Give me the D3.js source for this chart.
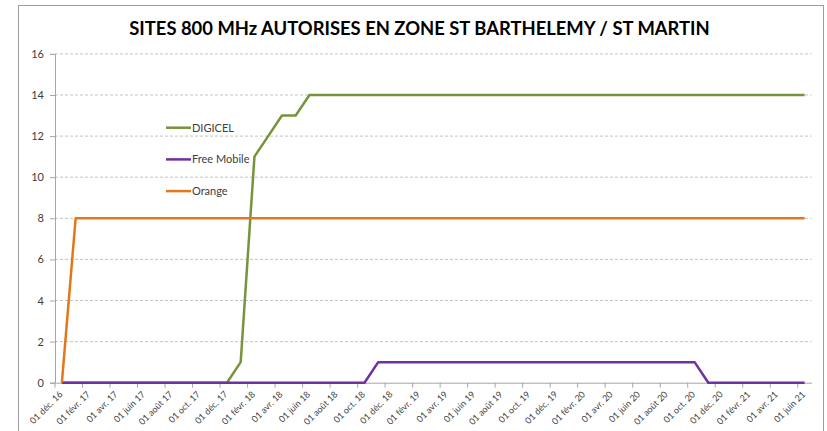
<!DOCTYPE html>
<html>
<head>
<meta charset="utf-8">
<script src="https://cdn.jsdelivr.net/npm/d3@7"></script>
<style>
body{margin:0;background:#fff;}
text{font-family:Lato,"Open Sans",sans-serif;}
</style>
</head>
<body>
<script>
// months Dec 2016 .. Jun 2021
var months = d3.timeMonth.range(new Date(2016,11,1), new Date(2021,6,1));

var tickLabels = ['01 déc. 16','01 févr. 17','01 avr. 17','01 juin 17','01 août 17','01 oct. 17',
	'01 déc. 17','01 févr. 18','01 avr. 18','01 juin 18','01 août 18','01 oct. 18',
	'01 déc. 18','01 févr. 19','01 avr. 19','01 juin 19','01 août 19','01 oct. 19',
	'01 déc. 19','01 févr. 20','01 avr. 20','01 juin 20','01 août 20','01 oct. 20',
	'01 déc. 20','01 févr. 21','01 avr. 21','01 juin 21'];

var digicel = [0,0,0,0,0,0,0,0,0,0,0,0,0,1,11,12,13,13,14,14,
	14,14,14,14,14,14,14,14,14,14,14,14,14,14,14,14,14,14,14,14,
	14,14,14,14,14,14,14,14,14,14,14,14,14,14,14];
var freeMobile = [0,0,0,0,0,0,0,0,0,0,0,0,0,0,0,0,0,0,0,0,
	0,0,0,1,1,1,1,1,1,1,1,1,1,1,1,1,1,1,1,1,
	1,1,1,1,1,1,1,0,0,0,0,0,0,0,0];
var orange = [0,8,8,8,8,8,8,8,8,8,8,8,8,8,8,8,8,8,8,8,
	8,8,8,8,8,8,8,8,8,8,8,8,8,8,8,8,8,8,8,8,
	8,8,8,8,8,8,8,8,8,8,8,8,8,8,8];

var seriesNames = ['DIGICEL','Free Mobile','Orange'];
var seriesData = [digicel, freeMobile, orange];
var colors = ['#77933c','#7030a0','#e5761a'];
var yTicks = [0,2,4,6,8,10,12,14,16];

var width = 827, height = 431,
	pLeft = 55, pRight = 811.5, pTop = 53.9, pBottom = 382.7;

var svg = d3.select('body').append('svg')
	.attr('width',width)
	.attr('height',height);

// chart border
svg.append('rect')
	.attr('x',18.5).attr('y',5.5)
	.attr('width',805).attr('height',440)
	.attr('fill','#fff').attr('stroke','#9d9d9d');

svg.append('text')
	.attr('x',419.5).attr('y',34.5)
	.attr('text-anchor','middle')
	.attr('font-size',18.4).attr('font-weight','bold')
	.attr('fill','#000')
	.text('SITES 800 MHz AUTORISES EN ZONE ST BARTHELEMY / ST MARTIN');

var x = d3.scaleBand().domain(months.map(function(d,i){return i;})).range([pLeft,pRight]).padding(0);
var y = d3.scaleLinear().domain([0,16]).range([pBottom,pTop]);
var bw = x.bandwidth();

// grid
svg.append('g').selectAll('line')
	.data(yTicks.filter(function(d){return d>0;}))
	.enter().append('line')
	.attr('x1',pLeft).attr('x2',pRight)
	.attr('y1',function(d){return y(d);}).attr('y2',function(d){return y(d);})
	.attr('stroke','#b4b4b4').attr('stroke-dasharray','3,2').attr('stroke-width',0.8);

// y axis
var y_axis = d3.axisLeft(y).tickValues(yTicks).tickSize(5).tickPadding(6).tickFormat(d3.format('d'));
var gy = svg.append('g').attr('transform','translate('+pLeft+',0)').call(y_axis);
gy.select('.domain').attr('stroke','#a6a6a6');
gy.selectAll('.tick line').attr('stroke','#a6a6a6');
gy.selectAll('.tick text').attr('font-size',11).attr('fill','#404040').attr('font-family','Lato,sans-serif');

// x axis: ticks at start of every second month, labels at the month centre
var tickIdx = tickLabels.map(function(d,i){return i*2;});
var x_axis = d3.axisBottom(x).tickValues(tickIdx).tickSize(5).tickSizeOuter(0).tickFormat(function(d,i){return tickLabels[i];});
var gx = svg.append('g').attr('transform','translate(0,'+pBottom+')').call(x_axis);
gx.select('.domain').attr('stroke','#a6a6a6');
gx.selectAll('.tick line').attr('stroke','#a6a6a6')
	.attr('transform','translate('+(-bw/2)+',0)');
gx.selectAll('.tick text')
	.attr('font-size',9).attr('fill','#404040').attr('font-family','Lato,sans-serif')
	.attr('text-anchor','end')
	.attr('y',0).attr('dy','0.35em')
	.attr('transform','translate(-1,10) rotate(-45)');

// lines
var line_generator = d3.line()
	.x(function(d,i){return x(i)+bw/2;})
	.y(function(d){return y(d);});

svg.append('g').selectAll('path')
	.data(seriesData)
	.enter().append('path')
	.attr('d',function(d){return line_generator(d);})
	.attr('fill','none')
	.attr('stroke',function(d,i){return colors[i];})
	.attr('stroke-width',2.5)
	.attr('stroke-linejoin','round');

// legend
var legend = svg.append('g').selectAll('g')
	.data(seriesNames)
	.enter().append('g')
	.attr('transform',function(d,i){return 'translate(166,'+(127.7+i*31.7)+')';});
legend.append('line')
	.attr('x1',0).attr('x2',25)
	.attr('stroke',function(d,i){return colors[i];})
	.attr('stroke-width',2.5);
legend.append('text')
	.attr('x',26).attr('dy','0.35em')
	.attr('font-size',11).attr('fill','#404040')
	.text(function(d){return d;});
</script>
</body>
</html>
